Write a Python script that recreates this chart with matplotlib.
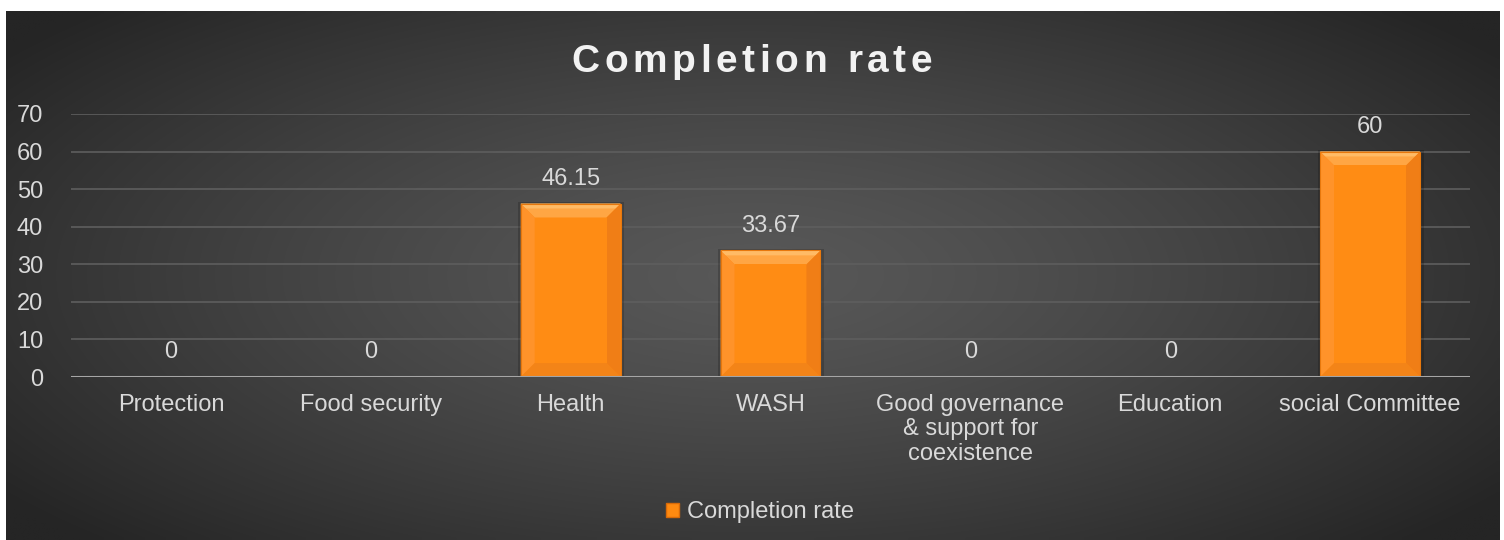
import numpy as np
import matplotlib
matplotlib.use("Agg")
import matplotlib.pyplot as plt
from matplotlib.patches import Polygon, Rectangle
from matplotlib.font_manager import FontProperties

categories = ["Protection", "Food security", "Health", "WASH",
              "Good governance\n& support for\ncoexistence", "Education", "social Committee"]
values = [0, 0, 46.15, 33.67, 0, 0, 60]
value_labels = ["0", "0", "46.15", "33.67", "0", "0", "60"]
series_name = "Completion rate"
title = "Completion rate"
yticks = [0, 10, 20, 30, 40, 50, 60, 70]

plt.rcParams['font.family'] = ['Liberation Sans', 'DejaVu Sans']
TXT = "#d9d9d9"

W, H = 1504, 540
fig = plt.figure(figsize=(W / 100, H / 100), dpi=100)
fig.patch.set_facecolor("white")

# background gradient panel
bg = fig.add_axes([6 / W, 0, 1494 / W, 529 / H], zorder=-10)
nx, ny = 300, 110
xx, yy = np.meshgrid(np.linspace(-1, 1, nx), np.linspace(-1, 1, ny))
r = np.sqrt((xx / 1.0) ** 2 + (yy / 1.15) ** 2)
inner = np.array([0x58, 0x58, 0x58]) / 255
outer = np.array([0x25, 0x25, 0x25]) / 255
t = np.clip(r / 1.25, 0, 1) ** 1.3
img = inner[None, None, :] * (1 - t[..., None]) + outer[None, None, :] * t[..., None]
bg.imshow(img, aspect="auto", extent=[0, 1, 0, 1], interpolation="bilinear")
bg.set_axis_off()

ax = fig.add_axes([71 / W, 163 / H, 1399 / W, 263 / H])
ax.set_facecolor("none")
x = np.arange(len(categories))
bw = 0.5
bars = ax.bar(x, values, width=bw, color="#ff8a12", edgecolor="none", zorder=3)

# bevel effect
dx = 0.07
dy = 3.7
for xi, v in zip(x, values):
    if v <= 0:
        continue
    l, rr = xi - bw / 2, xi + bw / 2
    top, bot = v, 0
    d = min(dy, v / 2)
    # soft shadow
    ax.add_patch(Rectangle((l - 0.012, bot), bw + 0.03, top - bot + 0.4,
                           facecolor="black", alpha=0.18, edgecolor="none", zorder=2))
    # top bevel (light)
    ax.add_patch(Polygon([[l, top], [rr, top], [rr - dx, top - d], [l + dx, top - d]],
                         closed=True, facecolor="#ffa644", edgecolor="none", zorder=4))
    ax.add_patch(Polygon([[l, top], [rr, top], [rr - dx * 0.35, top - d * 0.35],
                          [l + dx * 0.35, top - d * 0.35]],
                         closed=True, facecolor="#ffbb66", edgecolor="none", zorder=4))
    # left bevel
    ax.add_patch(Polygon([[l, top], [l + dx, top - d], [l + dx, bot + d], [l, bot]],
                         closed=True, facecolor="#ff932a", edgecolor="none", zorder=4))
    # right bevel (dark)
    ax.add_patch(Polygon([[rr, top], [rr - dx, top - d], [rr - dx, bot + d], [rr, bot]],
                         closed=True, facecolor="#f07e16", edgecolor="none", zorder=4))
    # bottom bevel
    ax.add_patch(Polygon([[l, bot], [rr, bot], [rr - dx, bot + d], [l + dx, bot + d]],
                         closed=True, facecolor="#f38418", edgecolor="none", zorder=4))
    # face
    ax.add_patch(Rectangle((l + dx, bot + d), bw - 2 * dx, top - bot - 2 * d,
                           facecolor="#ff8c14", edgecolor="none", zorder=4))
    ax.add_patch(Rectangle((l, bot), bw, top - bot, facecolor="none",
                           edgecolor="#e8780c", linewidth=0.8, zorder=5))

for xi, v, lab in zip(x, values, value_labels):
    ax.annotate(lab, (xi, v), xytext=(0, 10), textcoords="offset points",
                ha="center", va="bottom", color=TXT, fontsize=17)

ax.set_xlim(-0.5, len(categories) - 0.5)
ax.set_ylim(0, 70)
ax.set_yticks(yticks)
ax.set_yticklabels([str(v) for v in yticks])
ax.set_xticks(x)
ax.set_xticklabels(categories, linespacing=1.15)
ax.tick_params(axis="both", length=0, colors=TXT, labelsize=17)
ax.tick_params(axis="y", pad=20)
ax.tick_params(axis="x", pad=12)
for s in ax.spines.values():
    s.set_visible(False)
ax.grid(axis="y", color="#5e5e5e", linewidth=1.2, zorder=0)
ax.set_axisbelow(True)
ax.axhline(0, color="#a6a6a6", linewidth=2.2, zorder=6)

# title with letter spacing
fp = FontProperties(family=['Liberation Sans', 'DejaVu Sans'], weight="bold", size=28)
renderer = fig.canvas.get_renderer()
def tw(s):
    if not s:
        return 0.0
    w, h, d = renderer.get_text_width_height_descent(s.replace(" ", "\u00a0"), fp, ismath=False)
    return w
spacing = 4.6
total = tw(title) + spacing * (len(title) - 1)
x0 = 752 - total / 2
for i, ch in enumerate(title):
    if ch == " ":
        continue
    xp = x0 + tw(title[:i]) + spacing * i
    fig.text(xp / W, 1 - 58 / H, ch, ha="left", va="center_baseline", color="#f2f2f2",
             fontproperties=fp)

handle = Rectangle((0, 0), 1, 1, facecolor="#ff8a10", edgecolor="#d86a08")
leg = fig.legend([handle], [series_name], loc="center", bbox_to_anchor=(760 / W, 1 - 512 / H),
                 frameon=False, fontsize=17, labelcolor=TXT, handlelength=0.55, handleheight=0.55,
                 handletextpad=0.3)

fig.savefig("out.png", dpi=100, facecolor=fig.get_facecolor())
